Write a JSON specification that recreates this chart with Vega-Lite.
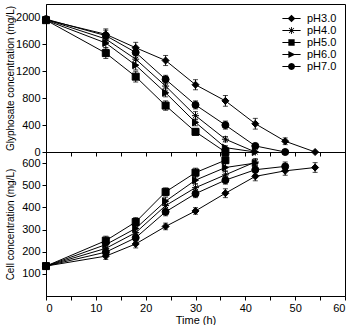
{
  "$schema": "https://vega.github.io/schema/vega-lite/v6.json",
  "padding": {"left": 4, "top": 3, "right": 4, "bottom": 0},
  "spacing": 0,
  "bounds": "flush",
  "config": {
    "font": "Liberation Sans",
    "view": {"stroke": "black", "strokeWidth": 1},
    "axis": {
      "grid": false,
      "domainColor": "black",
      "tickColor": "black",
      "labelColor": "black",
      "titleColor": "black",
      "labelFont": "Liberation Sans",
      "titleFont": "Liberation Sans",
      "labelFontSize": 11,
      "titleFontSize": 10,
      "titleFontWeight": "normal",
      "tickSize": 4,
      "labelPadding": 2
    }
  },
  "datasets": {
    "glyph": [
      {"pH": "pH3.0", "t": 0, "v": 1965, "err": 40},
      {"pH": "pH3.0", "t": 12, "v": 1750, "err": 80},
      {"pH": "pH3.0", "t": 18, "v": 1550, "err": 80},
      {"pH": "pH3.0", "t": 24, "v": 1360, "err": 75},
      {"pH": "pH3.0", "t": 30, "v": 1000, "err": 75},
      {"pH": "pH3.0", "t": 36, "v": 760, "err": 80},
      {"pH": "pH3.0", "t": 42, "v": 420, "err": 80},
      {"pH": "pH3.0", "t": 48, "v": 160, "err": 50},
      {"pH": "pH3.0", "t": 54, "v": 0, "err": 0},
      {"pH": "pH4.0", "t": 0, "v": 1970, "err": 40},
      {"pH": "pH4.0", "t": 12, "v": 1680, "err": 70},
      {"pH": "pH4.0", "t": 18, "v": 1380, "err": 80},
      {"pH": "pH4.0", "t": 24, "v": 980, "err": 70},
      {"pH": "pH4.0", "t": 30, "v": 540, "err": 60},
      {"pH": "pH4.0", "t": 36, "v": 190, "err": 40},
      {"pH": "pH4.0", "t": 42, "v": 0, "err": 0},
      {"pH": "pH5.0", "t": 0, "v": 1960, "err": 40},
      {"pH": "pH5.0", "t": 12, "v": 1470, "err": 80},
      {"pH": "pH5.0", "t": 18, "v": 1120, "err": 80},
      {"pH": "pH5.0", "t": 24, "v": 690, "err": 70},
      {"pH": "pH5.0", "t": 30, "v": 300, "err": 50},
      {"pH": "pH5.0", "t": 36, "v": 0, "err": 0},
      {"pH": "pH6.0", "t": 0, "v": 1960, "err": 40},
      {"pH": "pH6.0", "t": 12, "v": 1620, "err": 70},
      {"pH": "pH6.0", "t": 18, "v": 1290, "err": 70},
      {"pH": "pH6.0", "t": 24, "v": 880, "err": 60},
      {"pH": "pH6.0", "t": 30, "v": 440, "err": 50},
      {"pH": "pH6.0", "t": 36, "v": 65, "err": 30},
      {"pH": "pH6.0", "t": 42, "v": 0, "err": 0},
      {"pH": "pH7.0", "t": 0, "v": 1975, "err": 40},
      {"pH": "pH7.0", "t": 12, "v": 1730, "err": 80},
      {"pH": "pH7.0", "t": 18, "v": 1480, "err": 70},
      {"pH": "pH7.0", "t": 24, "v": 1080, "err": 60},
      {"pH": "pH7.0", "t": 30, "v": 700, "err": 60},
      {"pH": "pH7.0", "t": 36, "v": 400, "err": 60},
      {"pH": "pH7.0", "t": 42, "v": 90, "err": 30},
      {"pH": "pH7.0", "t": 48, "v": 0, "err": 0}
    ],
    "cell": [
      {"pH": "pH3.0", "t": 0, "v": 135, "err": 8},
      {"pH": "pH3.0", "t": 12, "v": 180, "err": 15},
      {"pH": "pH3.0", "t": 18, "v": 235, "err": 18},
      {"pH": "pH3.0", "t": 24, "v": 314, "err": 15},
      {"pH": "pH3.0", "t": 30, "v": 384, "err": 15},
      {"pH": "pH3.0", "t": 36, "v": 464, "err": 20},
      {"pH": "pH3.0", "t": 42, "v": 540, "err": 20},
      {"pH": "pH3.0", "t": 48, "v": 565, "err": 20},
      {"pH": "pH3.0", "t": 54, "v": 580, "err": 22},
      {"pH": "pH4.0", "t": 0, "v": 135, "err": 8},
      {"pH": "pH4.0", "t": 12, "v": 215, "err": 15},
      {"pH": "pH4.0", "t": 18, "v": 286, "err": 18},
      {"pH": "pH4.0", "t": 24, "v": 408, "err": 18},
      {"pH": "pH4.0", "t": 30, "v": 489, "err": 18},
      {"pH": "pH4.0", "t": 36, "v": 547, "err": 18},
      {"pH": "pH4.0", "t": 42, "v": 605, "err": 15},
      {"pH": "pH5.0", "t": 0, "v": 135, "err": 8},
      {"pH": "pH5.0", "t": 12, "v": 250, "err": 20},
      {"pH": "pH5.0", "t": 18, "v": 334, "err": 20},
      {"pH": "pH5.0", "t": 24, "v": 470, "err": 18},
      {"pH": "pH5.0", "t": 30, "v": 557, "err": 20},
      {"pH": "pH5.0", "t": 36, "v": 613, "err": 15},
      {"pH": "pH6.0", "t": 0, "v": 135, "err": 8},
      {"pH": "pH6.0", "t": 12, "v": 232, "err": 15},
      {"pH": "pH6.0", "t": 18, "v": 305, "err": 18},
      {"pH": "pH6.0", "t": 24, "v": 428, "err": 18},
      {"pH": "pH6.0", "t": 30, "v": 523, "err": 18},
      {"pH": "pH6.0", "t": 36, "v": 580, "err": 18},
      {"pH": "pH6.0", "t": 42, "v": 600, "err": 15},
      {"pH": "pH7.0", "t": 0, "v": 135, "err": 8},
      {"pH": "pH7.0", "t": 12, "v": 198, "err": 15},
      {"pH": "pH7.0", "t": 18, "v": 263, "err": 18},
      {"pH": "pH7.0", "t": 24, "v": 380, "err": 18},
      {"pH": "pH7.0", "t": 30, "v": 462, "err": 18},
      {"pH": "pH7.0", "t": 36, "v": 523, "err": 18},
      {"pH": "pH7.0", "t": 42, "v": 570, "err": 20},
      {"pH": "pH7.0", "t": 48, "v": 585, "err": 20}
    ]
  },
  "vconcat": [
    {
      "width": 299,
      "height": 148,
      "data": {"name": "glyph"},
      "encoding": {
        "x": {"field": "t", "type": "quantitative", "scale": {"domain": [0, 60], "nice": false},
              "axis": {"values": [0, 5, 10, 15, 20, 25, 30, 35, 40, 45, 50, 55, 60], "labels": false, "title": null}},
        "y": {"field": "v", "type": "quantitative", "scale": {"domain": [0, 2200], "nice": false},
              "axis": {"values": [0, 400, 800, 1200, 1600, 2000], "format": "d", "title": "Glyphosate concentration (mg/L)", "titleX": -31}}
      },
      "layer": [
        {
          "mark": {"type": "line", "color": "black", "strokeWidth": 1},
          "encoding": {"detail": {"field": "pH", "type": "nominal"}}
        },
        {
          "mark": {"type": "errorbar", "color": "black", "ticks": {"size": 5, "color": "black"}, "thickness": 1},
          "encoding": {"yError": {"field": "err"}}
        },
        {
          "mark": {"type": "point", "filled": true, "size": 49, "color": "black", "stroke": "black", "strokeWidth": 1, "opacity": 1},
          "encoding": {
            "shape": {
              "field": "pH", "type": "nominal",
              "scale": {
                "domain": ["pH3.0", "pH4.0", "pH5.0", "pH6.0", "pH7.0"],
                "range": ["diamond", "M-1,0L1,0M0,-1L0,1M-0.7,-0.7L0.7,0.7M-0.7,0.7L0.7,-0.7", "square", "triangle-right", "circle"]
              },
              "legend": null
            }
          }
        },
        {
          "transform": [{"filter": "datum.t < 0"}],
          "mark": {"type": "point", "filled": true, "size": 49, "color": "black"},
          "encoding": {
            "shape": {
              "field": "pH", "type": "nominal",
              "scale": {
                "domain": ["pH3.0", "pH4.0", "pH5.0", "pH6.0", "pH7.0"],
                "range": [
                  "M-2.6,-0.15L2.6,-0.15L2.6,0.15L-2.6,0.15ZM-1.1,0L0,-1.1L1.1,0L0,1.1Z",
                  "M-2.6,-0.15L2.6,-0.15L2.6,0.15L-2.6,0.15ZM-0.12,-1L0.12,-1L0.12,1L-0.12,1ZM-0.615,-0.785L0.785,0.615L0.615,0.785L-0.785,-0.615ZM-0.785,0.615L0.615,-0.785L0.785,-0.615L-0.615,0.785Z",
                  "M-2.6,-0.15L2.6,-0.15L2.6,0.15L-2.6,0.15ZM-0.9,-0.9L0.9,-0.9L0.9,0.9L-0.9,0.9Z",
                  "M-2.6,-0.15L2.6,-0.15L2.6,0.15L-2.6,0.15ZM-0.9,-1L1.1,0L-0.9,1Z",
                  "M-2.6,-0.15L2.6,-0.15L2.6,0.15L-2.6,0.15ZM1,0L0.866,0.5L0.5,0.866L0,1L-0.5,0.866L-0.866,0.5L-1,0L-0.866,-0.5L-0.5,-0.866L0,-1L0.5,-0.866L0.866,-0.5Z"
                ]
              },
              "legend": {
                "title": null,
                "orient": "none",
                "legendX": 240,
                "legendY": 9,
                "labelFontSize": 11,
                "labelFont": "Liberation Sans",
                "labelColor": "black",
                "labelOffset": 10,
                "rowPadding": 0,
                "symbolSize": 49,
                "symbolOpacity": 1,
                "symbolFillColor": "black",
                "symbolStrokeWidth": 0
              }
            }
          }
        },
        {
          "data": {"values": [{}]},
          "mark": {"type": "text", "fontSize": 14, "font": "Liberation Sans", "color": "black"},
          "encoding": {
            "x": {"datum": 12.5},
            "y": {"datum": 810},
            "text": {"value": "(a)"}
          }
        }
      ],
      "resolve": {"scale": {"shape": "independent"}, "legend": {"shape": "independent"}}
    },
    {
      "width": 299,
      "height": 144,
      "data": {"name": "cell"},
      "encoding": {
        "x": {"field": "t", "type": "quantitative", "scale": {"domain": [0, 60], "nice": false},
              "axis": {"values": [0, 5, 10, 15, 20, 25, 30, 35, 40, 45, 50, 55, 60], "labelExpr": "datum.value % 10 === 0 ? datum.label : ''", "title": "Time (h)", "titleFontSize": 11, "titlePadding": 1}},
        "y": {"field": "v", "type": "quantitative", "scale": {"domain": [0, 650], "nice": false},
              "axis": {"values": [100, 200, 300, 400, 500, 600], "title": "Cell concentration (mg/L)", "titleX": -31}}
      },
      "layer": [
        {
          "mark": {"type": "line", "color": "black", "strokeWidth": 1},
          "encoding": {"detail": {"field": "pH", "type": "nominal"}}
        },
        {
          "mark": {"type": "errorbar", "color": "black", "ticks": {"size": 5, "color": "black"}, "thickness": 1},
          "encoding": {"yError": {"field": "err"}}
        },
        {
          "mark": {"type": "point", "filled": true, "size": 49, "color": "black", "stroke": "black", "strokeWidth": 1, "opacity": 1},
          "encoding": {
            "shape": {
              "field": "pH", "type": "nominal",
              "scale": {
                "domain": ["pH3.0", "pH4.0", "pH5.0", "pH6.0", "pH7.0"],
                "range": ["diamond", "M-1,0L1,0M0,-1L0,1M-0.7,-0.7L0.7,0.7M-0.7,0.7L0.7,-0.7", "square", "triangle-right", "circle"]
              },
              "legend": null
            }
          }
        },
        {
          "data": {"values": [{}]},
          "mark": {"type": "text", "fontSize": 14, "font": "Liberation Sans", "color": "black"},
          "encoding": {
            "x": {"datum": 12.5},
            "y": {"datum": 495},
            "text": {"value": "(b)"}
          }
        }
      ]
    }
  ],
  "resolve": {"scale": {"shape": "independent"}, "legend": {"shape": "independent"}}
}
